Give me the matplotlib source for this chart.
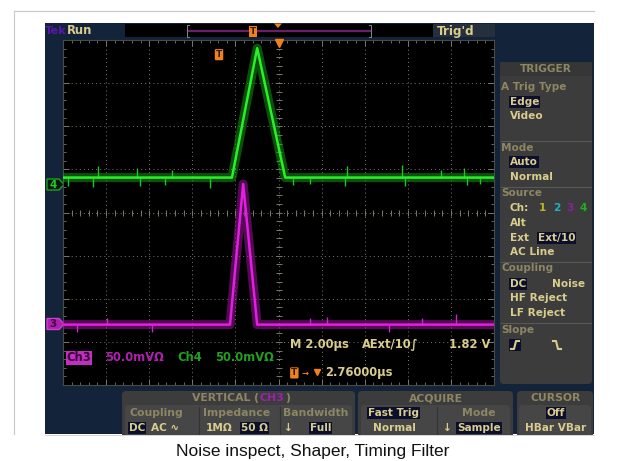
import matplotlib
matplotlib.use("Agg")
import matplotlib.pyplot as plt
from matplotlib.patches import Rectangle, FancyBboxPatch, Polygon

# ---------------- data ----------------
# time in microseconds relative to trigger, amplitude in mV
time_window = [-7.24, 12.76]          # 10 div x 2.00 us, trigger offset 2.76 us
time_center = 2.76
volts_per_div = 50.0                  # mV/div for both channels

ch4_t = [-7.24, 0.60, 1.77, 3.07, 12.76]
ch4_mv = [0.0, 0.0, 150.0, 0.0, 0.0]
ch4_pos = 0.81                        # baseline position (divisions)

ch3_t = [-7.24, 0.51, 1.12, 1.77, 12.76]
ch3_mv = [0.0, 0.0, 163.0, 0.0, 0.0]
ch3_pos = -2.60

# visible noise spikes (time us, mV)
ch4_spike_t = [-7.0, -5.86, -5.6, -3.8, -3.67, -2.5, -2.2, -0.42, 3.44, 4.23,
               5.86, 5.95, 8.5, 8.65, 10.3, 11.35, 11.5, 12.1]
ch4_spike_mv = [-10, -11, 13, 11, -10, -9, 9, -12, -9, -8,
                -10, 13, 14, -10, 9, 11, -9, -8]
ch3_spike_t = [-6.6, -5.2, -3.1, 4.2, 5.0, 7.9, 9.4, 10.98]
ch3_spike_mv = [-9, 8, -9, 8, 9, -8, 8, 12]

caption = "Noise inspect, Shaper, Timing Filter"

# ---------------- colours ----------------
NAVY = "#13233a"
PANEL = "#3c3c3c"
PANEL2 = "#464646"
DIM = "#8c8663"
TAN = "#d9cc8c"
HIL = "#0b0f2c"
GREEN = "#2af02a"
MAG = "#e21ee2"
ORANGE = "#f0821e"
GRID = "#7a7a6a"

fig = plt.figure(figsize=(6.21, 4.61), dpi=100)
fig.patch.set_facecolor("white")
bg = fig.add_axes([0, 0, 1, 1])
bg.set_xlim(0, 621)
bg.set_ylim(461, 0)
bg.axis("off")

FONT = "DejaVu Sans"


def rect(x0, y0, x1, y1, color, z=1, **kw):
    bg.add_patch(Rectangle((x0, y0), x1 - x0, y1 - y0, facecolor=color,
                           edgecolor="none", zorder=z, **kw))


def rrect(x0, y0, x1, y1, color, z=1, r=4):
    bg.add_patch(FancyBboxPatch((x0 + r, y0 + r), x1 - x0 - 2 * r, y1 - y0 - 2 * r,
                                boxstyle=f"round,pad={r}", facecolor=color,
                                edgecolor="none", zorder=z))


def txt(x, y, s, color=TAN, size=7.6, ha="left", weight="bold", hl=None, z=5, family=FONT):
    kw = {}
    if hl is not None:
        kw["bbox"] = dict(boxstyle="square,pad=0.08", facecolor=hl, edgecolor="none")
    bg.text(x, y, s, color=color, fontsize=size, ha=ha, va="center",
            fontweight=weight, family=family, zorder=z, **kw)


# outer slide border
bg.plot([14, 594], [11, 11], color="#c8c8c8", lw=0.8, zorder=0)
bg.plot([14, 14], [11, 440], color="#c8c8c8", lw=0.8, zorder=0)

# scope frame
rect(45, 23, 594, 434, NAVY, z=1)

# ---- top status bar ----
txt(45, 30.5, "Tek", color="#5a18a8", size=8.2)
txt(67, 31, "Run", color=TAN, size=8.4)
rect(125, 24, 433, 37.5, "black", z=2)
bg.plot([188, 370], [31, 31], color="#6a1f6a", lw=1.6, zorder=3)
bg.plot([189, 187, 187, 189], [25, 25, 37, 37], color="#888", lw=0.7, zorder=3)
bg.plot([369, 371, 371, 369], [25, 25, 37, 37], color="#888", lw=0.7, zorder=3)
txt(253, 31.5, "T", color="#3a1a00", size=6.5, ha="center", hl=ORANGE, z=4)
bg.add_patch(Polygon([[274, 23.5], [282, 23.5], [278, 28]], closed=True,
                     facecolor=ORANGE, edgecolor="none", zorder=4))
rect(433, 24, 495, 37.5, "#26303c", z=2)
txt(437, 31, "Trig'd", color=TAN, size=8.6)

# ---- trigger side panel ----
rrect(500, 62, 592, 384, PANEL, z=2)
rect(500, 62, 592, 76, "#363636", z=2)
txt(546, 69.5, "TRIGGER", color=DIM, size=7.6, ha="center")
for ysep in [141, 187, 262, 323]:
    bg.plot([501, 591], [ysep, ysep], color="#585858", lw=0.8, zorder=3)
txt(501, 87, "A Trig Type", color=DIM, size=7.6)
txt(510, 102, "Edge", hl=HIL)
txt(510, 116, "Video")
txt(501, 148, "Mode", color=DIM, size=7.6)
txt(510, 162, "Auto", hl=HIL)
txt(510, 177, "Normal")
txt(501, 193, "Source", color=DIM, size=7.6)
txt(510, 208, "Ch:")
txt(539, 208, "1", color="#b8b820")
txt(553, 208, "2", color="#20b0c0")
txt(566, 208, "3", color="#8a20a0")
txt(580, 208, "4", color="#20b020")
txt(510, 223, "Alt")
txt(510, 238, "Ext")
txt(538, 238, "Ext/10", hl=HIL)
txt(510, 252, "AC Line")
txt(501, 268, "Coupling", color=DIM, size=7.6)
txt(510, 284, "DC", hl=HIL)
txt(552, 284, "Noise")
txt(510, 298, "HF Reject")
txt(510, 313, "LF Reject")
txt(501, 330, "Slope", color=DIM, size=7.6)
rect(509, 339, 521, 351, HIL, z=3)
bg.plot([511, 514, 516, 519], [349, 349, 341, 341], color=TAN, lw=1.5, zorder=4)
bg.plot([553, 556, 558, 561], [341, 341, 349, 349], color=TAN, lw=1.5, zorder=4)

# ---- bottom panels ----
rrect(122, 391, 355, 440, PANEL, z=2)
rrect(125, 405, 352, 440, PANEL2, z=2)
txt(259, 398, "VERTICAL (", color=DIM, size=7.8, ha="right")
txt(260, 398, "CH3", color="#9a22aa", size=7.8)
txt(285, 398, ")", color=DIM, size=7.8)
for xs in [199, 280]:
    bg.plot([xs, xs], [407, 434], color="#333", lw=0.8, zorder=3)
txt(130, 413, "Coupling", color=DIM, size=7.8)
txt(203, 413, "Impedance", color=DIM, size=7.8)
txt(283, 413, "Bandwidth", color=DIM, size=7.8)
txt(129, 428, "DC", hl=HIL)
txt(151, 428, "AC ∿")
txt(206, 428, "1MΩ")
txt(241, 428, "50 Ω", hl=HIL)
txt(284, 428, "↓")
txt(310, 428, "Full", hl=HIL)

rrect(358, 391, 513, 440, PANEL, z=2)
rrect(361, 405, 510, 440, PANEL2, z=2)
txt(436, 398, "ACQUIRE", color=DIM, size=7.8, ha="center")
bg.plot([437, 437], [407, 434], color="#333", lw=0.8, zorder=3)
txt(368, 413, "Fast Trig", hl=HIL)
txt(373, 428, "Normal")
txt(462, 413, "Mode", color=DIM, size=7.8)
txt(443, 428, "↓")
txt(457, 428, "Sample", hl=HIL)

rrect(517, 391, 593, 440, PANEL, z=2)
rrect(519, 405, 591, 440, PANEL2, z=2)
txt(556, 398, "CURSOR", color=DIM, size=7.8, ha="center")
txt(556, 413, "Off", ha="center", hl=HIL)
txt(556, 428, "HBar VBar", ha="center")

# cover panels below frame
rect(0, 434.5, 621, 461, "white", z=6)
bg.plot([45, 594], [434.5, 434.5], color="#d0d0d0", lw=0.6, zorder=7)

# channel ground tags
bg.add_patch(Polygon([[47, 179], [59, 179], [64, 184.5], [59, 190], [47, 190]], closed=True,
                     facecolor="#0a1a10", edgecolor="#1fa01f", lw=1, zorder=4))
txt(53, 184.5, "4", color="#22cc22", size=7.5, ha="center")
bg.add_patch(Polygon([[47, 318.5], [59, 318.5], [64, 324], [59, 329.5], [47, 329.5]], closed=True,
                     facecolor="#b020b0", edgecolor="#d040d0", lw=1, zorder=4))
txt(53, 324, "3", color="#400040", size=7.5, ha="center")

# caption
bg.text(313, 451, caption, color="#111111", fontsize=12.5, ha="center", va="center",
        family="Liberation Sans", zorder=8)

# ---------------- graticule / traces ----------------
ax = fig.add_axes([63 / 621, 1 - 385 / 461, 431 / 621, 345 / 461])
ax.set_facecolor("black")
ax.set_xlim(*time_window)
ax.set_ylim(-4, 4)
for s in ax.spines.values():
    s.set_color("#4a4a44")
    s.set_linewidth(0.8)

xdiv = [time_center + 2 * k for k in range(-5, 6)]
xminor = [time_center + 0.4 * k for k in range(-25, 26)]
ax.set_xticks(xdiv)
ax.set_xticks(xminor, minor=True)
ax.set_yticks(range(-4, 5))
ax.set_yticks([0.2 * k for k in range(-20, 21)], minor=True)
ax.tick_params(which="both", direction="in", colors=GRID, top=True, right=True,
               labelbottom=False, labelleft=False)
ax.tick_params(which="major", length=4, width=0.7)
ax.tick_params(which="minor", length=2.5, width=0.6)

for xv in xdiv[1:-1]:
    ax.axvline(xv, color=GRID, lw=0.7, ls=(0, (1, 3.2)), zorder=1)
for yv in range(-3, 4):
    ax.axhline(yv, color=GRID, lw=0.7, ls=(0, (1, 3.2)), zorder=1)
# centre cross minor ticks
ax.plot(xminor, [0] * len(xminor), ls="none", marker="|", ms=4.5, mew=0.7, color=GRID, zorder=1)
ax.plot([time_center] * 41, [0.2 * k for k in range(-20, 21)], ls="none", marker="_",
        ms=4.5, mew=0.7, color=GRID, zorder=1)

y4 = [ch4_pos + v / volts_per_div for v in ch4_mv]
y3 = [ch3_pos + v / volts_per_div for v in ch3_mv]
ax.plot(ch4_t, y4, color="#17a017", lw=6.5, alpha=0.5, zorder=3)
ax.plot(ch4_t, y4, color=GREEN, lw=1.8, zorder=4)
ax.vlines(ch4_spike_t, ch4_pos, [ch4_pos + v / volts_per_div for v in ch4_spike_mv],
          color="#1bc81b", lw=1.0, zorder=3)
ax.plot(ch3_t, y3, color="#a816a8", lw=6.5, alpha=0.5, zorder=3)
ax.plot(ch3_t, y3, color=MAG, lw=1.8, zorder=4)
ax.vlines(ch3_spike_t, ch3_pos, [ch3_pos + v / volts_per_div for v in ch3_spike_mv],
          color="#d020d0", lw=1.0, zorder=3)

# trigger markers inside graticule
ax.text(0, 3.66, "T", color="#3a1a00", fontsize=6.5, fontweight="bold", ha="center",
        va="center", bbox=dict(boxstyle="round,pad=0.12", facecolor=ORANGE, edgecolor="none"), zorder=6)
ax.plot([time_center], [3.93], marker="v", ms=6, color=ORANGE, zorder=6, clip_on=False)

# readouts inside graticule
RY1, RY2, RY3 = -3.07, -3.37, -3.72
ax.text(-7.07, RY2, "Ch3", color="#3a003a", fontsize=8.3, fontweight="bold", va="center",
        bbox=dict(boxstyle="square,pad=0.05", facecolor="#c030c0", edgecolor="none"), zorder=6)
ax.text(-5.30, RY2, "50.0mVΩ", color="#b020b0", fontsize=8.3, fontweight="bold", va="center", zorder=6)
ax.text(-1.91, RY2, "Ch4", color="#20a020", fontsize=8.3, fontweight="bold", va="center", zorder=6)
ax.text(-0.19, RY2, "50.0mVΩ", color="#20a020", fontsize=8.3, fontweight="bold", va="center", zorder=6)
ax.text(3.30, RY1, "M 2.00µs", color=TAN, fontsize=8.3, fontweight="bold", va="center", zorder=6)
ax.text(6.65, RY1, "AExt/10∫", color=TAN, fontsize=8.3, fontweight="bold", va="center", zorder=6)
ax.text(10.65, RY1, "1.82 V", color=TAN, fontsize=8.3, fontweight="bold", va="center", zorder=6)
ax.text(3.35, RY3, "T", color="#3a1a00", fontsize=6.5, fontweight="bold", va="center",
        bbox=dict(boxstyle="round,pad=0.12", facecolor=ORANGE, edgecolor="none"), zorder=6)
ax.text(3.85, RY3, "→", color=ORANGE, fontsize=6, fontweight="bold", va="center", zorder=6)
ax.plot([4.55], [RY3 + 0.03], marker="v", ms=4.5, color=ORANGE, zorder=6)
ax.text(4.93, RY3, "2.76000µs", color=TAN, fontsize=8.3, fontweight="bold", va="center", zorder=6)

fig.savefig("out.png", dpi=100, facecolor="white")
